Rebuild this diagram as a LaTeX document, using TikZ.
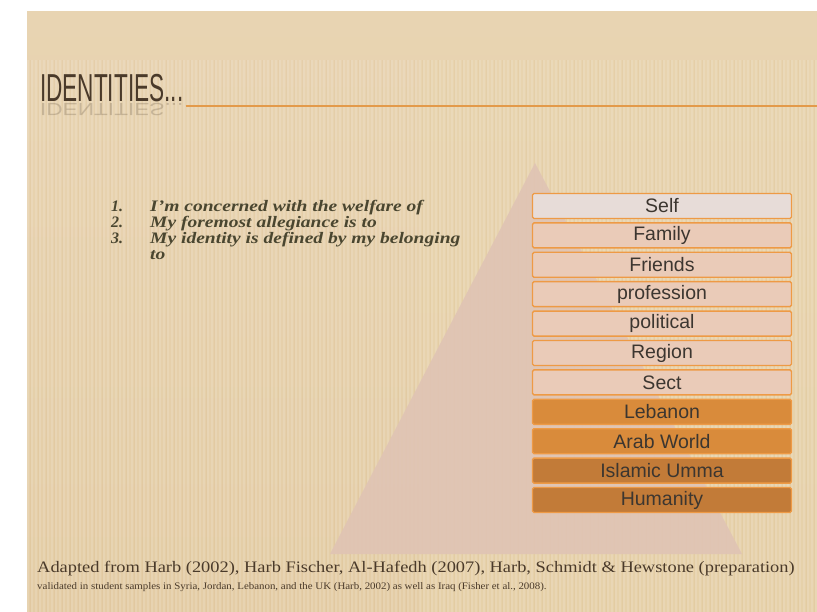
\documentclass[tikz,border=0pt]{standalone}
\usepackage{fontspec}
\setmainfont{Liberation Serif}
\newfontfamily\boxfont{Liberation Sans}
\newfontfamily\titlefont{Liberation Sans}
\usepackage{tikz}
\usetikzlibrary{calc}
\usetikzlibrary{positioning}
\definecolor{slideBg}{HTML}{E4CDA6}
\definecolor{slideTop}{HTML}{E8D4B2}
\definecolor{slideRight}{HTML}{E9D6AE}
\definecolor{titleBrown}{HTML}{4A3A2A}
\definecolor{ruleOrange}{HTML}{E39A4A}
\definecolor{listText}{HTML}{4A4630}
\definecolor{pyramidPink}{HTML}{E0C4B4}
\definecolor{rowSelf}{HTML}{E7DCD8}
\definecolor{rowLight}{HTML}{EACBB8}
\definecolor{rowOrange}{HTML}{D98B3B}
\definecolor{rowDark}{HTML}{C27B38}
\definecolor{rowBorder}{HTML}{EE9A45}
\definecolor{rowText}{HTML}{3C3630}
\newcommand{\rowColor}{rowLight}
\tikzset{
    row/.style = {draw=rowBorder, line width=1.4pt, fill=#1, rounded corners=1.5pt,
                  minimum width=259pt, minimum height=25pt, inner sep=0pt,
                  font=\boxfont\fontsize{19.5}{19.5}\selectfont, text=rowText},
    row/.default = \rowColor,
    rowS/.style = {row=rowSelf},
    rowO/.style = {row=rowOrange},
    rowD/.style = {row=rowDark},
    listnum/.style = {anchor=base west, inner sep=0pt, text=listText,
                      font=\fontsize{16}{16}\selectfont\bfseries\itshape},
    listline/.style = {listnum, xscale=1.22}
}

\begin{document}
\begin{tikzpicture}[x=1pt, y=-1pt]
                \useasboundingbox (0,0) rectangle (817,612);
                % slide background, white margin top and left
                \fill[white] (0,0) rectangle (817,612);
                \shade[top color=slideTop, bottom color=slideBg] (27,12) rectangle (817,612);
                \fill[slideRight, opacity=0.45] (420,60) rectangle (817,612);
                \foreach \x in {28,32,...,816}
                    \draw[white, opacity=0.13, line width=1.1pt] (\x,60) -- (\x,612);
                \foreach \x in {30,38,...,816}
                    \draw[brown, opacity=0.06, line width=0.8pt] (\x,60) -- (\x,612);
                
                % pyramid behind the rows
                \coordinate (apex) at (535,163);
                \coordinate (baseL) at (330,554);
                \coordinate (baseR) at (742,554);
                \fill[pyramidPink, opacity=0.9] (apex) -- (baseR) -- (baseL) -- cycle;
                
                % title with reflection and rule
                \node[anchor=base west, inner sep=0pt, xscale=0.58, text=titleBrown,
                      font=\titlefont\fontsize{39}{39}\selectfont] (title) at (40,102) {IDENTITIES...};
                \node[anchor=base west, inner sep=0pt, xscale=0.58, yscale=-0.45, text=titleBrown, opacity=0.22,
                      font=\titlefont\fontsize{39}{39}\selectfont] (titleecho) at (40,104) {IDENTITIES...};
                \coordinate (ruleend) at (817,106);
                \draw[ruleOrange, line width=1.6pt] (title.base east |- ruleend) ++(2,0) coordinate (rulestart) -- (ruleend);
                
                % numbered list
                \node[listnum] (n1) at (111,212) {1.};
                \node[listnum] (n2) at (111,228) {2.};
                \node[listnum] (n3) at (111,244) {3.};
                \node[listline] (l1) at (150,212) {I'm concerned with the welfare of};
                \node[listline] (l2) at (150,228) {My foremost allegiance is to};
                \node[listline] (l3) at (150,244) {My identity is defined by my belonging};
                \node[listline] (l4) at (150,260) {to};
                
                % stacked identity rows
                \node[rowS] (self) at (662,206) {Self};
                \node[row, below=3pt of self] (family) {Family};
                \node[row, below=3pt of family] (friends) {Friends};
                \node[row, below=3pt of friends] (profession) {profession};
                \node[row, below=3pt of profession] (political) {political};
                \node[row, below=3pt of political] (region) {Region};
                \node[row, below=3pt of region] (sect) {Sect};
                \node[rowO, below=3pt of sect] (lebanon) {Lebanon};
                \node[rowO, below=3pt of lebanon] (arabworld) {Arab World};
                \node[rowD, below=3pt of arabworld] (umma) {Islamic Umma};
                \node[rowD, below=3pt of umma] (humanity) {Humanity};
                
                % sources
                \node[anchor=base west, inner sep=0pt, xscale=1.15, text=titleBrown, font=\fontsize{16}{16}\selectfont] (src)
                    at (37,572) {Adapted from Harb (2002), Harb Fischer, Al-Hafedh (2007), Harb, Schmidt \& Hewstone (preparation)};
                \node[anchor=base west, inner sep=0pt, xscale=1.09, text=titleBrown, font=\fontsize{10}{10}\selectfont] (valid)
                    at (37,589) {validated in student samples in Syria, Jordan, Lebanon, and the UK (Harb, 2002) as well as Iraq (Fisher et al., 2008).};
        \end{tikzpicture}
\end{document}
